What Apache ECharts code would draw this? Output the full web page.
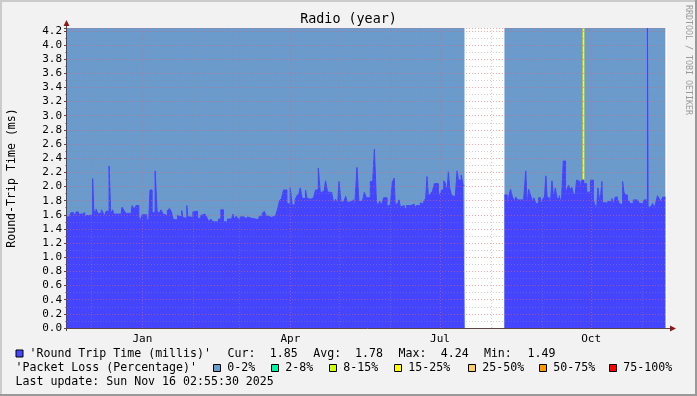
<!DOCTYPE html>
<html><head><meta charset="utf-8">
<script src="https://cdn.jsdelivr.net/npm/echarts@6/dist/echarts.min.js"></script>
<style>html,body{margin:0;padding:0;background:#f2f2f2}#c{width:697px;height:396px}</style>
</head><body><div id="c"></div>
<script>
// ---------- data ----------
const chartTitle = 'Radio (year)';
const yAxisTitle = 'Round-Trip Time (ms)';
const startTime = Date.UTC(2024, 10, 16, 2, 55, 30);
const endTime = Date.UTC(2025, 10, 16, 2, 55, 30);
const yMax = 4.24;
const monthStarts = ['2024-12-01','2025-01-01','2025-02-01','2025-03-01','2025-04-01','2025-05-01','2025-06-01','2025-07-01','2025-08-01','2025-09-01','2025-10-01','2025-11-01'];
const majorMonths = ['2025-01-01','2025-04-01','2025-07-01','2025-10-01'];
const majorMonthNames = ['Jan','Apr','Jul','Oct'];

// RTT steps: day offset from start, value (ms); null = no data
const rttDay = [0,1.8,2.4,3.9,5.1,5.5,6.9,7.9,9.5,10.8,11.6,14,15.6,16.3,17.7,18.9,19.7,20.9,22.1,22.7,
23.8,25.6,26.6,27.8,28.4,30.3,31.5,32.7,33.5,34.7,35.9,38.8,39.6,40.8,42.0,43.7,44.5,45.7,48.5,49.8,
50.5,51.8,53.6,54.8,56.0,57.2,58.3,59.3,61.1,62.3,63.5,64.7,67.2,68.4,69.8,70.5,71.7,72.9,73.5,74.9,
76.6,77.8,79.4,81.4,82.6,83.9,85.1,86.3,87.5,88.7,92.2,93.6,95.2,97.6,99.7,100.9,101.7,102.9,104.1,105.4,
107.8,109,109.8,111,112.2,114.7,116.3,
117.1,118.8,120,121.2,122.8,124.4,126.1,126.9,128.1,129.3,130.5,131.7,133.8,134.6,135.8,137,138.7,139.9,141.1,141.9,
143.1,145.1,146,147.2,148.4,150,151.2,152.9,154.1,154.9,156.1,157.3,158.5,160.2,161,162.2,163.4,164.6,165.5,166.7,
168.3,169.5,170.7,171.9,173.1,174.4,175.2,176.4,177.6,179.7,180.9,182.1,184.5,185.8,187,188.2,189,190.2,191.4,192.6,
194.7,195.9,196.7,197.9,199.1,199.6,200.8,202,202.8,204,205.2,206.5,208.9,210.1,211.3,212.5,215,216.2,217,218.2,
219,219.9,221.1,222.3,223.5,225.9,226.7,227.9,229.2,230,231.2,232,232.8,234,235.2,236.1,237.3,238.1,239.8,241,
241.8,241.9,
266.1,267.8,269,269.8,271,272.2,273,274.2,277.9,279.1,280,280.8,282,283.2,284,285.2,286.8,288.1,289.3,290.5,
291.3,292.1,293.4,294.2,295,296.2,297,298.2,299.5,300.7,301.9,303.3,303.9,305.1,306.3,307.1,308.3,309.2,310,311.2,
312,313.2,314.5,316.1,318.5,320.2,321,322.2,323,324.2,325.4,325.8,328.3,329.1,330.3,331.5,332.3,333.5,334.8,336,
337.2,338,338.8,339.6,340.9,341.7,342.5,344.5,347,348.2,350.2,351,353.1,353.5,355.1,356.3,357.1,358,359.2,360,
361.2,362.4,364];
const rttValue = [1.57,1.60,1.63,1.61,1.57,1.64,1.61,1.61,1.63,1.53,1.59,1.60,2.11,1.65,1.68,1.61,1.63,1.67,1.62,1.57,
1.65,2.29,1.61,1.67,1.61,1.63,1.61,1.57,1.71,1.66,1.62,1.57,1.73,1.68,1.73,1.57,1.51,1.60,1.53,1.57,
1.95,1.63,2.22,1.65,1.62,1.67,1.61,1.59,1.66,1.69,1.64,1.53,1.59,1.57,1.66,1.56,1.55,1.73,1.57,1.56,
1.64,1.65,1.55,1.59,1.61,1.59,1.56,1.50,1.54,1.50,1.54,1.67,1.50,1.54,1.50,1.61,1.54,1.58,1.54,1.57,
1.58,1.54,1.57,1.55,1.54,1.53,1.55,
1.58,1.62,1.65,1.58,1.56,1.58,1.49,1.59,1.68,1.80,1.83,1.95,1.76,1.75,1.98,1.74,1.81,1.87,1.90,1.98,
1.83,1.95,1.83,1.82,1.84,1.86,1.95,2.26,1.91,1.93,1.89,2.08,1.92,1.69,1.92,1.76,1.82,1.74,2.07,1.78,
1.76,1.86,1.77,1.79,1.81,1.67,1.79,2.27,1.79,1.80,1.92,1.84,2.07,2.00,2.53,1.80,1.72,1.79,1.74,1.84,
1.72,1.74,1.74,2.06,2.12,1.77,1.74,1.81,1.71,1.73,1.69,1.73,1.74,1.75,1.70,1.73,1.77,1.75,1.79,1.83,
2.14,1.85,1.90,1.93,2.04,1.94,1.85,1.95,2.08,2.05,1.93,2.21,1.98,1.87,1.86,1.82,2.22,2.09,2.16,2.01,
2.01,null,
1.88,1.68,1.88,1.96,1.85,1.79,1.85,1.81,1.85,2.22,1.72,1.96,1.88,1.78,1.84,1.76,1.84,1.73,1.81,1.86,
2.15,1.84,1.77,1.80,2.08,1.81,1.98,1.83,1.87,1.74,2.36,1.81,1.94,2.02,1.95,1.99,1.87,1.90,2.09,2.07,
1.96,2.09,2.04,1.92,2.09,1.81,1.75,1.69,1.98,1.76,2.07,1.77,1.72,1.79,1.78,1.83,1.74,1.85,1.82,1.76,
1.74,2.07,1.92,1.88,1.74,1.80,1.76,1.81,1.82,1.76,1.72,1.81,4.24,1.71,1.70,1.76,1.70,1.75,1.87,1.84,
1.78,1.85,1.85];

// packet-loss background periods (day offsets) and loss class index
const lossStart = [0, 266.1, 313.7];
const lossEnd = [241.8, 364, 314.7];
const lossClass = [0, 0, 3];
const lossLabels = ['0-2%','2-8%','8-15%','15-25%','25-50%','50-75%','75-100%'];
const lossColors = ['#6a9bcc','#00f5a3','#ccff00','#ffff00','#ffcc66','#ff9900','#ff0000'];

const rttLegend = "'Round Trip Time (millis)'";
const lossLegend = "'Packet Loss (Percentage)'";
const statNames = ['Cur:','Avg:','Max:','Min:'];
const statValues = ['1.85','1.78','4.24','1.49'];
const lastUpdate = 'Last update: Sun Nov 16 02:55:30 2025';
const watermark = 'RRDTOOL / TOBI OETIKER';

// ---------- build ----------
const DAY = 86400000;
const FONT = 'DejaVu Sans Mono';
const RTT_COLOR = '#4545ff';
const MAJOR_GRID = 'rgba(235,95,95,0.55)';
const MINOR_GRID = 'rgba(140,140,140,0.4)';
const toTs = d => startTime + d * DAY;
const rttData = rttDay.map((d, i) => [toTs(d), rttValue[i]]);
const majorTs = majorMonths.map(s => Date.parse(s));

const markAreaData = lossStart.map((s, i) => [
  { xAxis: toTs(s), itemStyle: { color: lossColors[lossClass[i]], opacity: 1 } },
  { xAxis: toTs(lossEnd[i]) }
]);
const markLineData = monthStarts.map(s => ({
  xAxis: Date.parse(s),
  lineStyle: majorMonths.indexOf(s) >= 0
    ? { color: MAJOR_GRID, type: [1, 2], width: 1 }
    : { color: MINOR_GRID, type: [1, 2], width: 1 }
}));

const g = [];
// frame
g.push({ type: 'rect', shape: { x: 0, y: 0, width: 697, height: 2 }, style: { fill: '#cbcbcb' }, silent: true });
g.push({ type: 'rect', shape: { x: 0, y: 0, width: 2, height: 396 }, style: { fill: '#cbcbcb' }, silent: true });
g.push({ type: 'rect', shape: { x: 695, y: 0, width: 2, height: 396 }, style: { fill: '#999' }, silent: true });
g.push({ type: 'rect', shape: { x: 0, y: 394, width: 697, height: 2 }, style: { fill: '#999' }, silent: true });
// axes with arrows
g.push({ type: 'line', shape: { x1: 66.5, y1: 331, x2: 66.5, y2: 25 }, style: { stroke: '#5a4646', lineWidth: 1 }, silent: true, z: 20 });
g.push({ type: 'line', shape: { x1: 64, y1: 328.5, x2: 671, y2: 328.5 }, style: { stroke: '#5a4646', lineWidth: 1 }, silent: true, z: 20 });
g.push({ type: 'polygon', shape: { points: [[66.5, 20], [63.5, 26], [69.5, 26]] }, style: { fill: '#8b1a1a' }, silent: true, z: 20 });
g.push({ type: 'polygon', shape: { points: [[676, 328.5], [670, 325.5], [670, 331.5]] }, style: { fill: '#8b1a1a' }, silent: true, z: 20 });
// watermark
g.push({ type: 'text', x: 688, y: 60, rotation: -Math.PI / 2, silent: true,
  style: { text: watermark, fontFamily: FONT, fontSize: 8.3, fill: '#9a9a9a', align: 'center', verticalAlign: 'middle' } });
function txt(x, y, s) {
  return { type: 'text', x: x, y: y, silent: true, z: 20,
    style: { text: s, fontFamily: FONT, fontSize: 11.6, fill: '#000', align: 'left', verticalAlign: 'middle' } };
}
function sq(x, y, c) {
  return { type: 'rect', shape: { x: x, y: y, width: 7, height: 7 }, silent: true, z: 20,
    style: { fill: c, stroke: '#000', lineWidth: 1 } };
}
// legend row 1
g.push(sq(16, 350, RTT_COLOR));
g.push(txt(29.5, 354, rttLegend));
const statNameX = [227.5, 313.3, 398.6, 483.9];
const statValX = [269.7, 355.1, 440.8, 527.5];
statNames.forEach((s, i) => { g.push(txt(statNameX[i], 354, s)); g.push(txt(statValX[i], 354, statValues[i])); });
// legend row 2
g.push(txt(15.5, 368, lossLegend));
const lossSqX = [213, 271, 329, 394, 468, 539, 609];
lossLabels.forEach((s, i) => { g.push(sq(lossSqX[i] + 0.5, 364.5, lossColors[i])); g.push(txt(lossSqX[i] + 14.3, 368, s)); });
// row 3
g.push(txt(15.5, 382, lastUpdate));

const chart = echarts.init(document.getElementById('c'));
chart.setOption({
  animation: false,
  backgroundColor: '#f2f2f2',
  title: { text: chartTitle, left: 'center', top: 13, padding: 0,
    textStyle: { fontFamily: FONT, fontSize: 13.4, fontWeight: 'normal', color: '#000' } },
  grid: { left: 67, top: 28, width: 600, height: 300, show: true, backgroundColor: '#fff', borderWidth: 0,
    containLabel: false, outerBoundsMode: 'none' },
  xAxis: {
    type: 'value', min: startTime, max: endTime,
    axisLine: { show: false }, axisTick: { show: false }, splitLine: { show: false },
    axisLabel: { customValues: majorTs, margin: 6, fontFamily: FONT, fontSize: 11, color: '#000',
      formatter: v => majorMonthNames[majorTs.indexOf(v)] || '' }
  },
  yAxis: {
    type: 'value', min: 0, max: yMax, interval: 0.2, z: 3,
    name: yAxisTitle, nameLocation: 'middle', nameGap: 49, nameRotate: 90, nameMoveOverlap: false,
    nameTextStyle: { fontFamily: FONT, fontSize: 11.6, color: '#000' },
    axisLine: { show: false },
    axisTick: { show: true, length: 3, lineStyle: { color: '#5a4646' } },
    minorTick: { show: true, splitNumber: 2, length: 2, lineStyle: { color: '#999' } },
    axisLabel: { margin: 5, fontFamily: FONT, fontSize: 11, color: '#000', showMaxLabel: false,
      formatter: v => v.toFixed(1) },
    splitLine: { show: true, lineStyle: { color: MAJOR_GRID, type: [1, 2], width: 1 } },
    minorSplitLine: { show: true, lineStyle: { color: MINOR_GRID, type: [1, 2], width: 1 } }
  },
  series: [{
    type: 'line', step: 'end', data: rttData, symbol: 'none', connectNulls: false, z: 2,
    lineStyle: { color: RTT_COLOR, width: 1 },
    areaStyle: { color: RTT_COLOR, opacity: 1, origin: 'start' },
    markArea: { silent: true, z: 1, data: markAreaData },
    markLine: { silent: true, z: 5, symbol: ['none', 'none'], label: { show: false }, data: markLineData }
  }],
  graphic: g
});
</script></body></html>
